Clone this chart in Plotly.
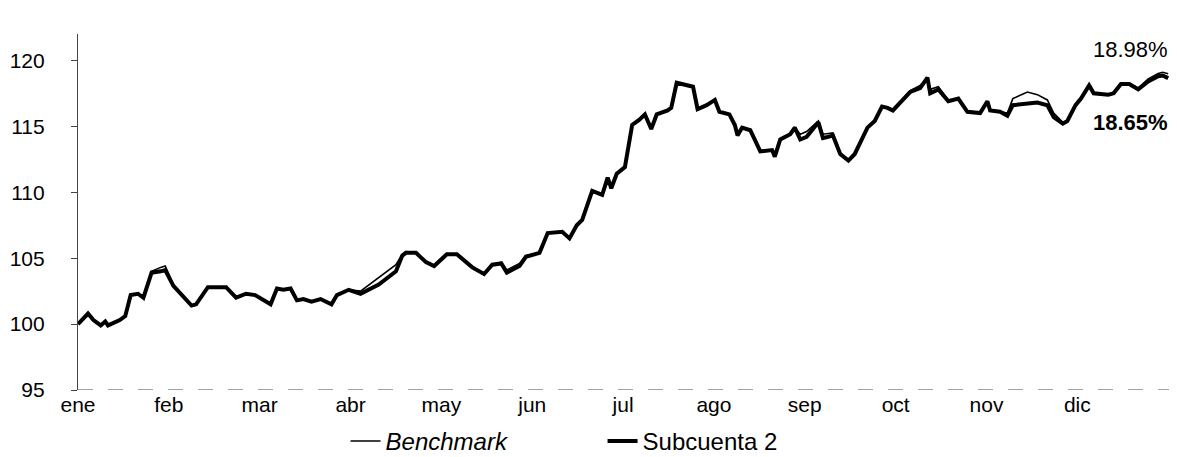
import plotly.graph_objects as go

# x positions in months elapsed since 1 January (0 = start of ene, 12 = end of dic)
months_elapsed = [
    0.00, 0.11, 0.17, 0.25, 0.30, 0.33, 0.46, 0.52, 0.58, 0.66, 0.72, 0.81, 0.91, 0.96,
    1.05, 1.16, 1.25, 1.30, 1.43, 1.57, 1.63, 1.74, 1.85, 1.95,
    2.12, 2.19, 2.26, 2.34, 2.41, 2.48, 2.57, 2.67, 2.79, 2.85, 2.98,
    3.11, 3.31, 3.50, 3.57, 3.61, 3.72, 3.83, 3.92,
    4.06, 4.17, 4.34, 4.47, 4.56, 4.66, 4.72, 4.86, 4.93,
    5.08, 5.17, 5.33, 5.41, 5.49, 5.55, 5.66, 5.77, 5.83, 5.87, 5.93,
    6.02, 6.10, 6.18, 6.24, 6.31, 6.37, 6.49, 6.53, 6.59, 6.73, 6.77, 6.82, 6.92,
    7.01, 7.06, 7.17, 7.23, 7.26, 7.31, 7.40, 7.51, 7.64, 7.67, 7.73, 7.84, 7.89, 7.95,
    8.02, 8.15, 8.20, 8.31, 8.39, 8.48, 8.55, 8.69, 8.77, 8.85, 8.91, 8.97,
    9.05, 9.16, 9.27, 9.35, 9.38, 9.47, 9.58, 9.69, 9.79, 9.93,
    10.01, 10.04, 10.15, 10.23, 10.29, 10.45, 10.56, 10.67, 10.74, 10.84, 10.89, 10.98,
    11.04, 11.13, 11.18, 11.34, 11.40, 11.48, 11.57, 11.67, 11.78, 11.89, 11.94, 12.00,
]

subcuenta_2 = [
    100.0, 100.8, 100.3, 99.9, 100.2, 99.9, 100.3, 100.6, 102.2, 102.3, 102.0, 103.9, 104.0, 104.1,
    102.9, 102.1, 101.4, 101.5, 102.8, 102.8, 102.8, 102.0, 102.3, 102.2,
    101.5, 102.7, 102.6, 102.7, 101.8, 101.9, 101.7, 101.9, 101.5, 102.2, 102.6,
    102.3, 103.0, 104.0, 105.2, 105.4, 105.4, 104.7, 104.4,
    105.3, 105.3, 104.3, 103.8, 104.5, 104.6, 103.9, 104.4, 105.1,
    105.4, 106.9, 107.0, 106.5, 107.5, 107.9, 110.1, 109.8, 111.1, 110.3, 111.4,
    111.9, 115.1, 115.5, 115.9, 114.8, 115.9, 116.2, 116.4, 118.3, 118.1, 118.0, 116.3, 116.6,
    117.0, 116.1, 115.9, 115.1, 114.3, 114.9, 114.7, 113.1, 113.2, 112.7, 114.0, 114.4, 114.9, 114.0,
    114.2, 115.3, 114.1, 114.3, 112.9, 112.4, 112.9, 114.9, 115.4, 116.5, 116.4, 116.2,
    116.8, 117.6, 117.9, 118.7, 117.5, 117.8, 116.9, 117.1, 116.1, 116.0,
    116.9, 116.2, 116.1, 115.8, 116.6, 116.7, 116.8, 116.6, 115.7, 115.2, 115.4, 116.6,
    117.1, 118.1, 117.5, 117.4, 117.5, 118.2, 118.2, 117.8, 118.4, 118.8, 118.85, 118.65,
]

benchmark = [
    100.0, 100.8, 100.3, 99.9, 100.2, 99.9, 100.3, 100.6, 102.2, 102.3, 102.0, 104.0, 104.3, 104.4,
    103.0, 102.1, 101.4, 101.5, 102.8, 102.8, 102.8, 102.0, 102.3, 102.2,
    101.5, 102.7, 102.6, 102.7, 101.8, 101.9, 101.7, 101.9, 101.5, 102.2, 102.6,
    102.5, 103.5, 104.5, 105.3, 105.5, 105.4, 104.7, 104.4,
    105.3, 105.3, 104.3, 103.8, 104.5, 104.7, 104.1, 104.6, 105.2,
    105.4, 106.9, 107.0, 106.5, 107.5, 107.9, 110.1, 109.8, 111.1, 110.3, 111.4,
    111.9, 115.1, 115.5, 115.9, 114.8, 115.9, 116.2, 116.4, 118.3, 118.1, 118.0, 116.3, 116.6,
    117.0, 116.1, 115.9, 115.1, 114.3, 114.9, 114.7, 113.1, 113.2, 112.7, 114.0, 114.4, 114.9, 114.4,
    114.6, 115.4, 114.4, 114.5, 113.0, 112.4, 112.9, 114.9, 115.4, 116.5, 116.4, 116.2,
    116.8, 117.7, 118.1, 118.7, 117.8, 118.0, 117.0, 117.1, 116.1, 116.0,
    116.9, 116.2, 116.1, 116.0, 117.1, 117.6, 117.4, 117.0, 116.0, 115.3, 115.4, 116.6,
    117.1, 118.1, 117.5, 117.4, 117.6, 118.3, 118.3, 117.9, 118.6, 119.0, 119.1, 118.98,
]

month_labels = ["ene", "feb", "mar", "abr", "may", "jun",
                "jul", "ago", "sep", "oct", "nov", "dic"]
month_ticks = list(range(12))
y_ticks = [95, 100, 105, 110, 115, 120]

FONT = "Liberation Sans, Arial, sans-serif"

fig = go.Figure()
fig.add_trace(go.Scatter(
    x=months_elapsed, y=benchmark, mode="lines", name="<i>Benchmark</i>",
    line=dict(color="black", width=1.6),
))
fig.add_trace(go.Scatter(
    x=months_elapsed, y=subcuenta_2, mode="lines", name="Subcuenta 2",
    line=dict(color="black", width=4),
))

fig.add_annotation(
    x=months_elapsed[-1], y=benchmark[-1], xref="x", yref="y",
    text=f"{benchmark[-1] - 100:.2f}%", showarrow=False,
    xanchor="right", yanchor="bottom", yshift=10, xshift=2,
    font=dict(family=FONT, size=22, color="black"),
)
fig.add_annotation(
    x=months_elapsed[-1], y=subcuenta_2[-1], xref="x", yref="y",
    text=f"<b>{subcuenta_2[-1] - 100:.2f}%</b>", showarrow=False,
    xanchor="right", yanchor="top", yshift=-30, xshift=2,
    font=dict(family=FONT, size=22, color="black"),
)

# dashed x axis line like the scan
fig.add_shape(type="line", xref="paper", yref="y", x0=0, x1=1, y0=95, y1=95,
              line=dict(color="#444", width=1.2, dash="longdash"))

# the page body adds an 8 px offset, so the figure is 8 px smaller and margins shifted
fig.update_layout(
    width=1169, height=449,
    margin=dict(l=70, r=7, t=26, b=67, autoexpand=False),
    paper_bgcolor="white", plot_bgcolor="white",
    font=dict(family=FONT, size=21, color="black"),
    showlegend=True,
    legend=dict(
        orientation="h", x=0.245, xanchor="left",
        yref="container", y=0.085, yanchor="top",
        entrywidth=212, entrywidthmode="pixels",
        font=dict(family=FONT, size=24, color="black"),
        bgcolor="rgba(0,0,0,0)",
    ),
)
fig.update_xaxes(
    range=[0, 12.02], tickmode="array", tickvals=month_ticks, ticktext=month_labels,
    showgrid=False, zeroline=False, showline=False, ticks="", automargin=False,
    tickfont=dict(family=FONT, size=21, color="black"),
)
fig.update_yaxes(
    range=[95, 122], tickmode="array", tickvals=y_ticks, automargin=False,
    showgrid=False, zeroline=False, showline=True, linecolor="#444", linewidth=1.2,
    ticks="outside", ticklen=6, tickcolor="#444", ticklabelstandoff=22,
    tickfont=dict(family=FONT, size=21, color="black"),
)

fig.write_html("out.html")
